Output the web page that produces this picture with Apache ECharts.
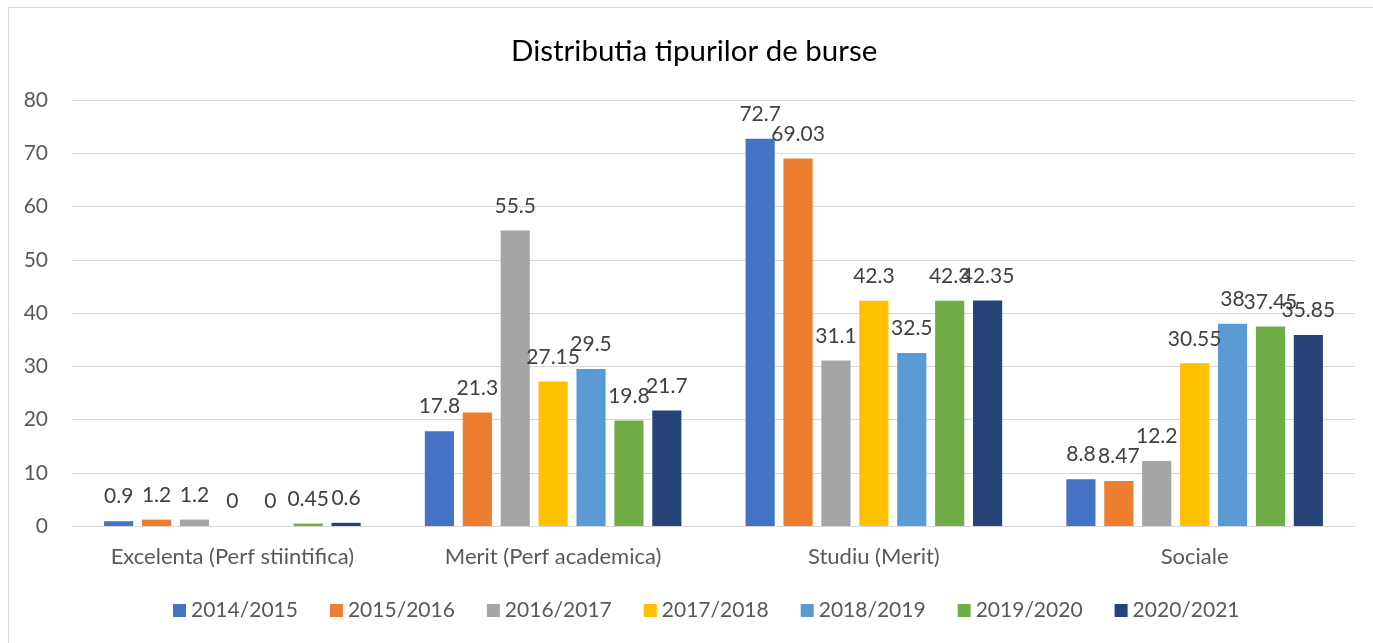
<!DOCTYPE html>
<html>
<head>
<meta charset="utf-8">
<script src="https://cdn.jsdelivr.net/npm/echarts@6/dist/echarts.min.js"></script>
<style>html,body{margin:0;padding:0;background:#fff}#c{width:1373px;height:643px}</style>
</head>
<body>
<div id="c"></div>
<script>
const categories = ['Excelenta (Perf stiintifica)', 'Merit (Perf academica)', 'Studiu (Merit)', 'Sociale'];
const seriesNames = ['2014/2015', '2015/2016', '2016/2017', '2017/2018', '2018/2019', '2019/2020', '2020/2021'];
const v2014 = [0.9, 17.8, 72.7, 8.8];
const v2015 = [1.2, 21.3, 69.03, 8.47];
const v2016 = [1.2, 55.5, 31.1, 12.2];
const v2017 = [0, 27.15, 42.3, 30.55];
const v2018 = [0, 29.5, 32.5, 38];
const v2019 = [0.45, 19.8, 42.3, 37.45];
const v2020 = [0.6, 21.7, 42.35, 35.85];
const colors = ['#4472C4', '#ED7D31', '#A5A5A5', '#FFC000', '#5B9BD5', '#70AD47', '#264478'];
const values = [v2014, v2015, v2016, v2017, v2018, v2019, v2020];
const FONT = 'Lato, "Open Sans", sans-serif';

const chart = echarts.init(document.getElementById('c'), null, {renderer: 'canvas'});
chart.setOption({
  animation: false,
  color: colors,
  title: {
    text: 'Distributia tipurilor de burse',
    left: 506, top: 31,
    textStyle: {fontFamily: FONT, fontSize: 29.5, fontWeight: 'normal', color: '#000'}
  },
  graphic: [{
    type: 'rect', shape: {x: 8.5, y: 7.5, width: 1400, height: 700},
    style: {fill: 'none', stroke: '#d9d9d9', lineWidth: 1}, silent: true
  }],
  legend: {
    bottom: 17, left: 168,
    itemWidth: 13, itemHeight: 13, itemGap: 32,
    icon: 'rect',
    textStyle: {fontFamily: FONT, fontSize: 21, color: '#595959'}
  },
  grid: {left: 72, right: 18, top: 100, bottom: 117},
  xAxis: {
    type: 'category', data: categories,
    axisLine: {lineStyle: {color: '#d9d9d9'}},
    axisTick: {show: false},
    axisLabel: {fontFamily: FONT, fontSize: 22, color: '#595959', margin: 20}
  },
  yAxis: {
    type: 'value', min: 0, max: 80, interval: 10,
    axisLine: {show: false}, axisTick: {show: false},
    splitLine: {lineStyle: {color: '#d9d9d9'}},
    axisLabel: {fontFamily: FONT, fontSize: 21, color: '#595959', margin: 24}
  },
  series: seriesNames.map((n, i) => ({
    name: n, type: 'bar', data: values[i],
    barGap: '30%', barCategoryGap: '20%',
    label: {show: true, position: 'top', distance: 14, fontFamily: FONT, fontSize: 21, color: '#404040'}
  }))
});
</script>
</body>
</html>
